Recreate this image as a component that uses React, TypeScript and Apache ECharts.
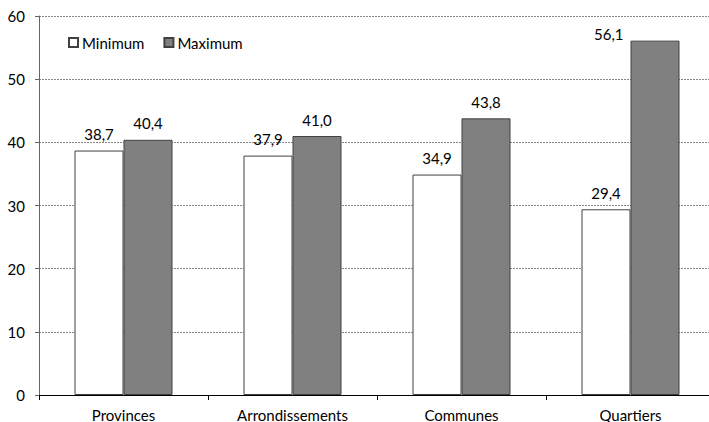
import React, { useEffect, useRef } from "react";
import * as echarts from "echarts";

const categories = ["Provinces", "Arrondissements", "Communes", "Quartiers"];
const minimumValues = [38.7, 37.9, 34.9, 29.4];
const maximumValues = [40.4, 41.0, 43.8, 56.1];
const seriesNames = ["Minimum", "Maximum"];

const FONT = "Lato";
const fmt = (v: number) => v.toFixed(1).replace(".", ",");

export default function App() {
  const ref = useRef<HTMLDivElement>(null);
  useEffect(() => {
    if (!ref.current) return;
    const chart = echarts.init(ref.current, null, { renderer: "svg" });
    const label = {
      show: true,
      position: "top" as const,
      distance: 9,
      color: "#000",
      fontFamily: FONT,
      fontSize: 15,
      formatter: (p: any) => fmt(p.value),
    };
    const maxData = maximumValues.map((v, i) =>
      i === maximumValues.length - 1
        ? {
            value: v,
            label: { position: [-7, -7], align: "right", verticalAlign: "middle" },
          }
        : v
    );
    chart.setOption({
      animation: false,
      textStyle: { fontFamily: FONT },
      legend: {
        left: 63,
        top: 30,
        itemWidth: 9,
        itemHeight: 9,
        itemGap: 19,
        icon: "rect",
        textStyle: { fontFamily: FONT, fontSize: 15, color: "#000", padding: [0, 0, 0, -1] },
        data: seriesNames,
      },
      grid: { left: 39, top: 16, right: 0, bottom: 26, containLabel: false },
      xAxis: {
        type: "category",
        data: categories,
        axisLine: { lineStyle: { color: "#000", width: 1 } },
        axisTick: { show: true, length: 5, lineStyle: { color: "#000" } },
        axisLabel: { color: "#000", fontFamily: FONT, fontSize: 15, margin: 12 },
      },
      yAxis: {
        type: "value",
        min: 0,
        max: 60,
        interval: 10,
        axisLine: { show: true, lineStyle: { color: "#666", width: 1 } },
        axisTick: { show: true, length: 4, lineStyle: { color: "#666" } },
        axisLabel: { color: "#000", fontFamily: FONT, fontSize: 15, margin: 14 },
        splitLine: { lineStyle: { color: "#888", type: [2, 1], width: 1 } },
      },
      series: [
        {
          name: seriesNames[0],
          type: "bar",
          data: minimumValues,
          barWidth: 49,
          barGap: "0%",
          itemStyle: { color: "#ffffff", borderColor: "#404040", borderWidth: 1 },
          label,
        },
        {
          name: seriesNames[1],
          type: "bar",
          data: maxData,
          barWidth: 49,
          barGap: "0%",
          itemStyle: { color: "#808080", borderColor: "#404040", borderWidth: 1 },
          label,
        },
      ],
    });
    return () => chart.dispose();
  }, []);
  return (
    <div
      style={{
        position: "fixed",
        left: 0,
        top: 0,
        width: 709,
        height: 422,
        overflow: "hidden",
        background: "#fff",
      }}
    >
      <div ref={ref} style={{ width: 715, height: 422 }} />
    </div>
  );
}
